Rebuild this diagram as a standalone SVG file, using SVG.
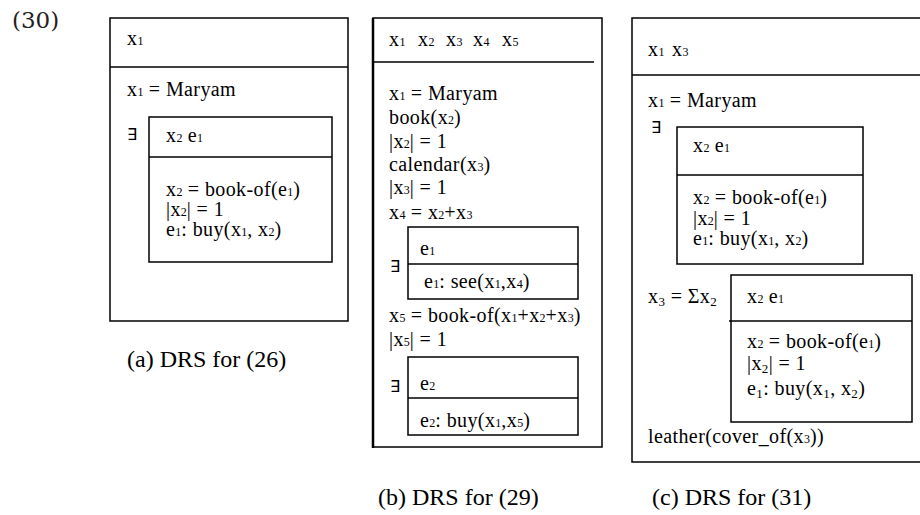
<svg xmlns="http://www.w3.org/2000/svg" width="920" height="515" viewBox="0 0 920 515">
<style>
.t{font-family:"Liberation Serif","Times New Roman",serif;font-size:20px;letter-spacing:0.4px;fill:#000}
.s{font-size:12px;letter-spacing:0}
.cap{font-size:24px;letter-spacing:0}
.ex{font-family:"DejaVu Sans",sans-serif;font-size:16px}
.cm{font-family:"Liberation Serif","Times New Roman",serif;font-size:20px;letter-spacing:0.4px}
.cs{font-size:13px}
.box{fill:none;stroke:#000;stroke-width:1.5}
.ln{stroke:#000;stroke-width:1.5}
.lab{font-family:"DejaVu Serif",serif;font-size:23px;fill:#222}
</style>
<rect width="920" height="515" fill="#fff"/>
<text class="lab" x="12" y="28">(30)</text>

<g id="drs-a">
  <rect class="box" x="110" y="18" width="238" height="303"/>
  <line class="ln" x1="110" y1="67" x2="348" y2="67"/>
  <text class="t" x="127" y="45">x<tspan class="s">1</tspan></text>
  <text class="t" x="127" y="96">x<tspan class="s">1</tspan> = Maryam</text>
  <text class="t ex" x="127" y="140">∃</text>
  <g id="drs-a-inner">
    <rect class="box" x="149" y="117" width="183" height="145"/>
    <line class="ln" x1="149" y1="157" x2="332" y2="157"/>
    <text class="t" x="166" y="142">x<tspan class="s">2</tspan> e<tspan class="s">1</tspan></text>
    <text class="t" x="166" y="196">x<tspan class="s">2</tspan> = book-of(e<tspan class="s">1</tspan>)</text>
    <text class="t" x="166" y="216">|x<tspan class="s">2</tspan>| = 1</text>
    <text class="t" x="166" y="236">e<tspan class="s">1</tspan>: buy(x<tspan class="s">1</tspan>, x<tspan class="s">2</tspan>)</text>
  </g>
  <text class="t cap" x="127" y="367">(a) DRS for (26)</text>
</g>

<g id="drs-b">
  <rect class="box" x="373" y="18" width="229" height="429"/>
  <line x1="373" y1="18" x2="373" y2="448" stroke="#000" stroke-width="2.5"/>
  <line class="ln" x1="373" y1="62" x2="594" y2="62"/>
  <text class="t" y="46"><tspan x="389">x</tspan><tspan class="s">1</tspan><tspan x="418">x</tspan><tspan class="s">2</tspan><tspan x="446">x</tspan><tspan class="s">3</tspan><tspan x="473">x</tspan><tspan class="s">4</tspan><tspan x="502">x</tspan><tspan class="s">5</tspan></text>
  <text class="t" x="389" y="100">x<tspan class="s">1</tspan> = Maryam</text>
  <text class="t" x="389" y="124">book(x<tspan class="s">2</tspan>)</text>
  <text class="t" x="389" y="148">|x<tspan class="s">2</tspan>| = 1</text>
  <text class="t" x="389" y="171">calendar(x<tspan class="s">3</tspan>)</text>
  <text class="t" x="389" y="194">|x<tspan class="s">3</tspan>| = 1</text>
  <text class="t" x="389" y="219">x<tspan class="s">4</tspan> = x<tspan class="s">2</tspan>+x<tspan class="s">3</tspan></text>
  <text class="t ex" x="390" y="272">∃</text>
  <g id="drs-b-e1">
    <rect class="box" x="408" y="227" width="170" height="72"/>
    <line class="ln" x1="408" y1="264" x2="578" y2="264"/>
    <text class="t" x="420" y="255">e<tspan class="s">1</tspan></text>
    <text class="t" x="424" y="288">e<tspan class="s">1</tspan>: see(x<tspan class="s">1</tspan>,x<tspan class="s">4</tspan>)</text>
  </g>
  <text class="t" x="389" y="322">x<tspan class="s">5</tspan> = book-of(x<tspan class="s">1</tspan>+x<tspan class="s">2</tspan>+x<tspan class="s">3</tspan>)</text>
  <text class="t" x="389" y="346">|x<tspan class="s">5</tspan>| = 1</text>
  <text class="t ex" x="390" y="392">∃</text>
  <g id="drs-b-e2">
    <rect class="box" x="408" y="357" width="170" height="78"/>
    <line class="ln" x1="408" y1="398" x2="578" y2="398"/>
    <text class="t" x="420" y="390">e<tspan class="s">2</tspan></text>
    <text class="t" x="420" y="427">e<tspan class="s">2</tspan>: buy(x<tspan class="s">1</tspan>,x<tspan class="s">5</tspan>)</text>
  </g>
  <text class="t cap" x="378" y="505">(b) DRS for (29)</text>
</g>

<g id="drs-c">
  <rect class="box" x="632" y="18" width="290" height="444"/>
  <line class="ln" x1="632" y1="75" x2="922" y2="75"/>
  <text class="t" y="56"><tspan x="648">x</tspan><tspan class="s">1</tspan><tspan x="672">x</tspan><tspan class="s">3</tspan></text>
  <text class="t" x="648" y="107">x<tspan class="s">1</tspan> = Maryam</text>
  <text class="t ex" x="651" y="133">∃</text>
  <g id="drs-c-inner1">
    <rect class="box" x="677" y="127" width="186" height="137"/>
    <line class="ln" x1="677" y1="175" x2="863" y2="175"/>
    <text class="t" x="693" y="152">x<tspan class="s">2</tspan> e<tspan class="s">1</tspan></text>
    <text class="t" x="693" y="204">x<tspan class="s">2</tspan> = book-of(e<tspan class="s">1</tspan>)</text>
    <text class="t" x="693" y="225">|x<tspan class="s">2</tspan>| = 1</text>
    <text class="t" x="693" y="245">e<tspan class="s">1</tspan>: buy(x<tspan class="s">1</tspan>, x<tspan class="s">2</tspan>)</text>
  </g>
  <text class="cm" x="648" y="303">x<tspan class="cs" dy="3">3</tspan><tspan dy="-3"> = Σx</tspan><tspan class="cs" dy="3">2</tspan></text>
  <g id="drs-c-inner2">
    <rect class="box" x="731" y="275" width="181" height="147"/>
    <line class="ln" x1="729" y1="321" x2="912" y2="321"/>
    <text class="t" x="747" y="303">x<tspan class="s">2</tspan> e<tspan class="s">1</tspan></text>
    <text class="t" x="747" y="348">x<tspan class="s">2</tspan> = book-of(e<tspan class="s">1</tspan>)</text>
    <text class="cm" x="747" y="370">|x<tspan class="cs" dy="3">2</tspan><tspan dy="-3">| = 1</tspan></text>
    <text class="cm" x="747" y="395">e<tspan class="cs" dy="3">1</tspan><tspan dy="-3">: buy(x</tspan><tspan class="cs" dy="3">1</tspan><tspan dy="-3">, x</tspan><tspan class="cs" dy="3">2</tspan><tspan dy="-3">)</tspan></text>
  </g>
  <text class="t" x="648" y="443">leather(cover_of(x<tspan class="s">3</tspan>))</text>
  <text class="t cap" x="652" y="505">(c) DRS for (31)</text>
</g>

<g id="connectors"/>
</svg>
